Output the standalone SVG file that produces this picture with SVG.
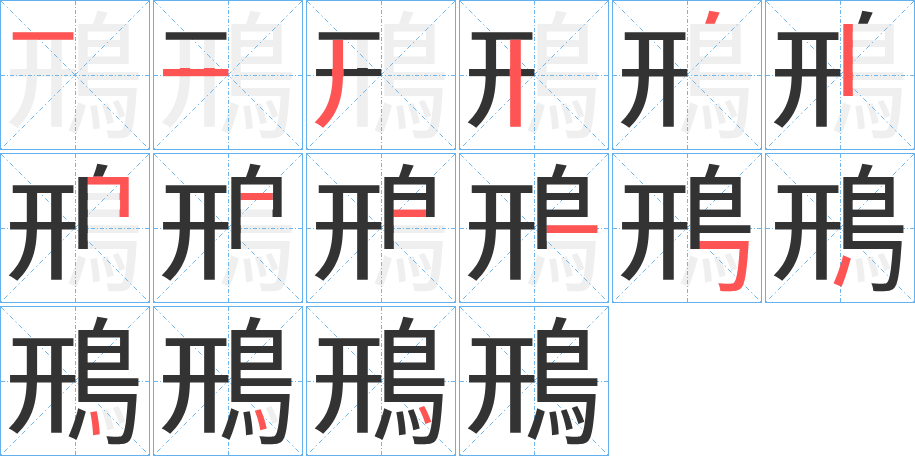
<svg xmlns="http://www.w3.org/2000/svg" width="915" height="456" viewBox="0 0 915 456">
<style>
.bd{fill:none;stroke:#63b2ef;stroke-width:1}
.dl{fill:none;stroke:#6cb7f0;stroke-width:1;stroke-dasharray:4 2 1 2}
.dg{fill:none;stroke:#6cb7f0;stroke-width:1;stroke-dasharray:5 3 1.5 3}
.k{font-size:450px;font-family:'Noto Sans CJK JP','Noto Sans CJK SC',sans-serif}
.g{fill:#efefef}
.b{fill:#333333}
.r{fill:#ff5454}
</style>
<defs>
<polygon id="pL" points="-10,-10 228,-10 228,300 186,300 186,470 -10,470"/>
<polygon id="pR" points="228,-10 470,-10 470,470 186,470 186,300 228,300"/>
<polygon id="p1" points="0,0 228,0 228,75 0,75"/>
<polygon id="p2" points="0,192 228,192 228,226 0,226"/>
<polygon id="p3" points="68,75 103,75 104,260 100,315 88,370 66,420 45,455 -5,455 -5,400 25,370 45,320 58,270 68,226"/>
<polygon id="p4" points="142,75 177,75 177,455 142,455"/>
<polygon id="p5" points="265,-5 352,-5 352,59 265,59"/>
<polygon id="p6" points="229,59 263,59 263,299 229,299"/>
<polygon id="p7" points="263,57 402,57 402,192 368,192 368,86 263,86"/>
<polygon id="p8" points="263,112 368,112 368,138 263,138"/>
<polygon id="p9" points="263,165 368,165 368,192 263,192"/>
<polygon id="p10" points="263,216 436,216 436,245 263,245"/>
<polygon id="p11" points="263,268 438,268 438,445 318,445 318,398 360,398 378,386 388,362 392,299 263,299"/>
<polygon id="p12" points="226,310 263,322 232,425 190,412"/>
<polygon id="p13" points="266,320 297,316 308,406 276,410"/>
<polygon id="p14" points="303,316 331,311 355,384 322,393"/>
<polygon id="p15" points="341,312 362,302 390,362 368,375"/>
<clipPath id="cL"><use href="#pL"/></clipPath>
<clipPath id="cR"><use href="#pR"/></clipPath>
<clipPath id="r1"><use href="#p1"/></clipPath>
<clipPath id="r2"><use href="#p2"/></clipPath>
<clipPath id="r3"><use href="#p3"/></clipPath>
<clipPath id="r4"><use href="#p4"/></clipPath>
<clipPath id="r5"><use href="#p5"/></clipPath>
<clipPath id="r6"><use href="#p6"/></clipPath>
<clipPath id="r7"><use href="#p7"/></clipPath>
<clipPath id="r8"><use href="#p8"/></clipPath>
<clipPath id="r9"><use href="#p9"/></clipPath>
<clipPath id="r10"><use href="#p10"/></clipPath>
<clipPath id="r11"><use href="#p11"/></clipPath>
<clipPath id="r12"><use href="#p12"/></clipPath>
<clipPath id="r13"><use href="#p13"/></clipPath>
<clipPath id="r14"><use href="#p14"/></clipPath>
<clipPath id="r15"><use href="#p15"/></clipPath>
<clipPath id="bL2"><use href="#p1"/></clipPath>
<clipPath id="bL3"><use href="#p1"/><use href="#p2"/></clipPath>
<clipPath id="bL4"><use href="#p1"/><use href="#p2"/><use href="#p3"/></clipPath>
<clipPath id="bR6"><use href="#p5"/></clipPath>
<clipPath id="bR7"><use href="#p5"/><use href="#p6"/></clipPath>
<clipPath id="bR8"><use href="#p5"/><use href="#p6"/><use href="#p7"/></clipPath>
<clipPath id="bR9"><use href="#p5"/><use href="#p6"/><use href="#p7"/><use href="#p8"/></clipPath>
<clipPath id="bR10"><use href="#p5"/><use href="#p6"/><use href="#p7"/><use href="#p8"/><use href="#p9"/></clipPath>
<clipPath id="bR11"><use href="#p5"/><use href="#p6"/><use href="#p7"/><use href="#p8"/><use href="#p9"/><use href="#p10"/></clipPath>
<clipPath id="bR12"><use href="#p5"/><use href="#p6"/><use href="#p7"/><use href="#p8"/><use href="#p9"/><use href="#p10"/><use href="#p11"/></clipPath>
<clipPath id="bR13"><use href="#p5"/><use href="#p6"/><use href="#p7"/><use href="#p8"/><use href="#p9"/><use href="#p10"/><use href="#p11"/><use href="#p12"/></clipPath>
<clipPath id="bR14"><use href="#p5"/><use href="#p6"/><use href="#p7"/><use href="#p8"/><use href="#p9"/><use href="#p10"/><use href="#p11"/><use href="#p12"/><use href="#p13"/></clipPath>
<clipPath id="bR15"><use href="#p5"/><use href="#p6"/><use href="#p7"/><use href="#p8"/><use href="#p9"/><use href="#p10"/><use href="#p11"/><use href="#p12"/><use href="#p13"/><use href="#p14"/></clipPath>
<g id="grid">
<rect class="bd" x="0.5" y="0.5" width="149" height="149"/>
<path class="dl" d="M1 75.5H149M75.5 1V149"/>
<path class="dg" d="M1 1L149 149M149 1L1 149"/>
</g>
</defs>

<g id="cell-1" transform="translate(0,0)">
<g transform="translate(3.4,21.4) scale(0.332,0.243)"><text x="0" y="396" class="k g" clip-path="url(#cL)">鳽</text></g>
<g transform="translate(8.4,5.8) scale(0.302,0.305)"><text x="0" y="396" class="k g" clip-path="url(#cR)">鳽</text></g>
<use href="#grid"/>
<g transform="translate(3.4,21.4) scale(0.332,0.243)"><text x="0" y="396" class="k r" clip-path="url(#r1)">鳽</text></g>
</g>

<g id="cell-2" transform="translate(153,0)">
<g transform="translate(3.4,21.4) scale(0.332,0.243)"><text x="0" y="396" class="k g" clip-path="url(#cL)">鳽</text></g>
<g transform="translate(8.4,5.8) scale(0.302,0.305)"><text x="0" y="396" class="k g" clip-path="url(#cR)">鳽</text></g>
<use href="#grid"/>
<g transform="translate(3.4,21.4) scale(0.332,0.243)"><text x="0" y="396" class="k b" clip-path="url(#bL2)">鳽</text><text x="0" y="396" class="k r" clip-path="url(#r2)">鳽</text></g>
</g>

<g id="cell-3" transform="translate(306,0)">
<g transform="translate(3.4,21.4) scale(0.332,0.243)"><text x="0" y="396" class="k g" clip-path="url(#cL)">鳽</text></g>
<g transform="translate(8.4,5.8) scale(0.302,0.305)"><text x="0" y="396" class="k g" clip-path="url(#cR)">鳽</text></g>
<use href="#grid"/>
<g transform="translate(3.4,21.4) scale(0.332,0.243)"><text x="0" y="396" class="k b" clip-path="url(#bL3)">鳽</text><text x="0" y="396" class="k r" clip-path="url(#r3)">鳽</text></g>
</g>

<g id="cell-4" transform="translate(459,0)">
<g transform="translate(3.4,21.4) scale(0.332,0.243)"><text x="0" y="396" class="k g" clip-path="url(#cL)">鳽</text></g>
<g transform="translate(8.4,5.8) scale(0.302,0.305)"><text x="0" y="396" class="k g" clip-path="url(#cR)">鳽</text></g>
<use href="#grid"/>
<g transform="translate(3.4,21.4) scale(0.332,0.243)"><text x="0" y="396" class="k b" clip-path="url(#bL4)">鳽</text><text x="0" y="396" class="k r" clip-path="url(#r4)">鳽</text></g>
</g>

<g id="cell-5" transform="translate(612,0)">
<g transform="translate(8.4,5.8) scale(0.302,0.305)"><text x="0" y="396" class="k g" clip-path="url(#cR)">鳽</text></g>
<use href="#grid"/>
<g transform="translate(3.4,21.4) scale(0.332,0.243)"><text x="0" y="396" class="k b" clip-path="url(#cL)">鳽</text></g>
<g transform="translate(8.4,5.8) scale(0.302,0.305)"><text x="0" y="396" class="k r" clip-path="url(#r5)">鳽</text></g>
</g>

<g id="cell-6" transform="translate(765,0)">
<g transform="translate(8.4,5.8) scale(0.302,0.305)"><text x="0" y="396" class="k g" clip-path="url(#cR)">鳽</text></g>
<use href="#grid"/>
<g transform="translate(3.4,21.4) scale(0.332,0.243)"><text x="0" y="396" class="k b" clip-path="url(#cL)">鳽</text></g>
<g transform="translate(8.4,5.8) scale(0.302,0.305)"><text x="0" y="396" class="k b" clip-path="url(#bR6)">鳽</text><text x="0" y="396" class="k r" clip-path="url(#r6)">鳽</text></g>
</g>

<g id="cell-7" transform="translate(0,153)">
<g transform="translate(8.4,5.8) scale(0.302,0.305)"><text x="0" y="396" class="k g" clip-path="url(#cR)">鳽</text></g>
<use href="#grid"/>
<g transform="translate(3.4,21.4) scale(0.332,0.243)"><text x="0" y="396" class="k b" clip-path="url(#cL)">鳽</text></g>
<g transform="translate(8.4,5.8) scale(0.302,0.305)"><text x="0" y="396" class="k b" clip-path="url(#bR7)">鳽</text><text x="0" y="396" class="k r" clip-path="url(#r7)">鳽</text></g>
</g>

<g id="cell-8" transform="translate(153,153)">
<g transform="translate(8.4,5.8) scale(0.302,0.305)"><text x="0" y="396" class="k g" clip-path="url(#cR)">鳽</text></g>
<use href="#grid"/>
<g transform="translate(3.4,21.4) scale(0.332,0.243)"><text x="0" y="396" class="k b" clip-path="url(#cL)">鳽</text></g>
<g transform="translate(8.4,5.8) scale(0.302,0.305)"><text x="0" y="396" class="k b" clip-path="url(#bR8)">鳽</text><text x="0" y="396" class="k r" clip-path="url(#r8)">鳽</text></g>
</g>

<g id="cell-9" transform="translate(306,153)">
<g transform="translate(8.4,5.8) scale(0.302,0.305)"><text x="0" y="396" class="k g" clip-path="url(#cR)">鳽</text></g>
<use href="#grid"/>
<g transform="translate(3.4,21.4) scale(0.332,0.243)"><text x="0" y="396" class="k b" clip-path="url(#cL)">鳽</text></g>
<g transform="translate(8.4,5.8) scale(0.302,0.305)"><text x="0" y="396" class="k b" clip-path="url(#bR9)">鳽</text><text x="0" y="396" class="k r" clip-path="url(#r9)">鳽</text></g>
</g>

<g id="cell-10" transform="translate(459,153)">
<g transform="translate(8.4,5.8) scale(0.302,0.305)"><text x="0" y="396" class="k g" clip-path="url(#cR)">鳽</text></g>
<use href="#grid"/>
<g transform="translate(3.4,21.4) scale(0.332,0.243)"><text x="0" y="396" class="k b" clip-path="url(#cL)">鳽</text></g>
<g transform="translate(8.4,5.8) scale(0.302,0.305)"><text x="0" y="396" class="k b" clip-path="url(#bR10)">鳽</text><text x="0" y="396" class="k r" clip-path="url(#r10)">鳽</text></g>
</g>

<g id="cell-11" transform="translate(612,153)">
<g transform="translate(8.4,5.8) scale(0.302,0.305)"><text x="0" y="396" class="k g" clip-path="url(#cR)">鳽</text></g>
<use href="#grid"/>
<g transform="translate(3.4,21.4) scale(0.332,0.243)"><text x="0" y="396" class="k b" clip-path="url(#cL)">鳽</text></g>
<g transform="translate(8.4,5.8) scale(0.302,0.305)"><text x="0" y="396" class="k b" clip-path="url(#bR11)">鳽</text><text x="0" y="396" class="k r" clip-path="url(#r11)">鳽</text></g>
</g>

<g id="cell-12" transform="translate(765,153)">
<g transform="translate(8.4,5.8) scale(0.302,0.305)"><text x="0" y="396" class="k g" clip-path="url(#cR)">鳽</text></g>
<use href="#grid"/>
<g transform="translate(3.4,21.4) scale(0.332,0.243)"><text x="0" y="396" class="k b" clip-path="url(#cL)">鳽</text></g>
<g transform="translate(8.4,5.8) scale(0.302,0.305)"><text x="0" y="396" class="k b" clip-path="url(#bR12)">鳽</text><text x="0" y="396" class="k r" clip-path="url(#r12)">鳽</text></g>
</g>

<g id="cell-13" transform="translate(0,306)">
<g transform="translate(8.4,5.8) scale(0.302,0.305)"><text x="0" y="396" class="k g" clip-path="url(#cR)">鳽</text></g>
<use href="#grid"/>
<g transform="translate(3.4,21.4) scale(0.332,0.243)"><text x="0" y="396" class="k b" clip-path="url(#cL)">鳽</text></g>
<g transform="translate(8.4,5.8) scale(0.302,0.305)"><text x="0" y="396" class="k b" clip-path="url(#bR13)">鳽</text><text x="0" y="396" class="k r" clip-path="url(#r13)">鳽</text></g>
</g>

<g id="cell-14" transform="translate(153,306)">
<g transform="translate(8.4,5.8) scale(0.302,0.305)"><text x="0" y="396" class="k g" clip-path="url(#cR)">鳽</text></g>
<use href="#grid"/>
<g transform="translate(3.4,21.4) scale(0.332,0.243)"><text x="0" y="396" class="k b" clip-path="url(#cL)">鳽</text></g>
<g transform="translate(8.4,5.8) scale(0.302,0.305)"><text x="0" y="396" class="k b" clip-path="url(#bR14)">鳽</text><text x="0" y="396" class="k r" clip-path="url(#r14)">鳽</text></g>
</g>

<g id="cell-15" transform="translate(306,306)">
<g transform="translate(8.4,5.8) scale(0.302,0.305)"><text x="0" y="396" class="k g" clip-path="url(#cR)">鳽</text></g>
<use href="#grid"/>
<g transform="translate(3.4,21.4) scale(0.332,0.243)"><text x="0" y="396" class="k b" clip-path="url(#cL)">鳽</text></g>
<g transform="translate(8.4,5.8) scale(0.302,0.305)"><text x="0" y="396" class="k b" clip-path="url(#bR15)">鳽</text><text x="0" y="396" class="k r" clip-path="url(#r15)">鳽</text></g>
</g>

<g id="cell-16" transform="translate(459,306)">
<use href="#grid"/>
<g transform="translate(3.4,21.4) scale(0.332,0.243)"><text x="0" y="396" class="k b" clip-path="url(#cL)">鳽</text></g>
<g transform="translate(8.4,5.8) scale(0.302,0.305)"><text x="0" y="396" class="k b" clip-path="url(#cR)">鳽</text></g>
</g>
</svg>
